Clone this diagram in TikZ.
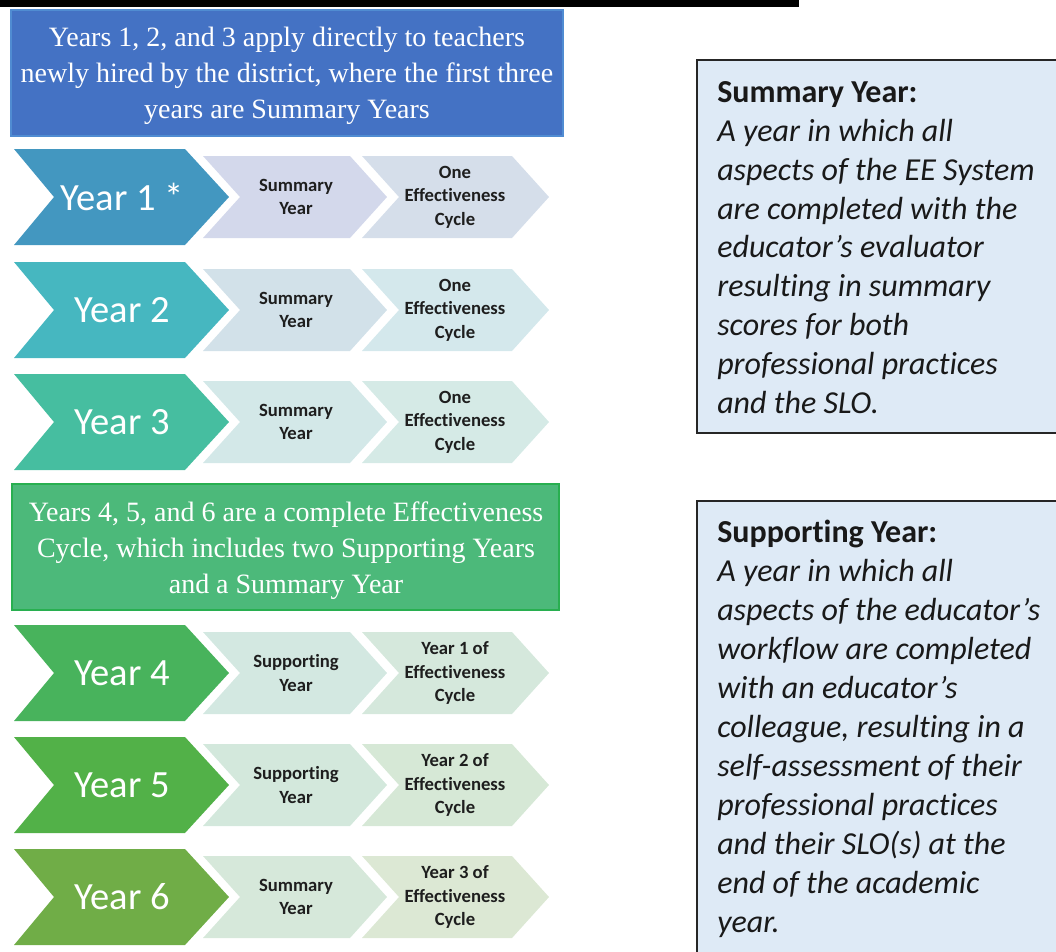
\documentclass[tikz,border=0pt]{standalone}
\usepackage{fontspec}
\setmainfont{Carlito}[Ligatures={NoCommon}]
\newfontfamily\hdrserif{Liberation Serif}
\definecolor{hdrblue}{RGB}{68,114,196}
\definecolor{hdrblueb}{RGB}{80,140,210}
\definecolor{hdrgreen}{RGB}{76,185,122}
\definecolor{hdrgreenb}{RGB}{40,175,80}
\definecolor{yA}{RGB}{67,151,192}
\definecolor{yAb}{RGB}{211,216,235}
\definecolor{yAc}{RGB}{213,222,234}
\definecolor{yB}{RGB}{70,183,192}
\definecolor{yBb}{RGB}{210,225,233}
\definecolor{yBc}{RGB}{212,232,236}
\definecolor{yC}{RGB}{70,190,160}
\definecolor{yCb}{RGB}{211,232,232}
\definecolor{yCc}{RGB}{213,234,230}
\definecolor{yD}{RGB}{72,179,92}
\definecolor{yDb}{RGB}{211,232,225}
\definecolor{yDc}{RGB}{213,232,220}
\definecolor{yE}{RGB}{82,177,72}
\definecolor{yEb}{RGB}{211,232,220}
\definecolor{yEc}{RGB}{214,232,214}
\definecolor{yF}{RGB}{112,173,71}
\definecolor{yFb}{RGB}{214,232,218}
\definecolor{yFc}{RGB}{220,232,212}
\definecolor{boxfill}{RGB}{222,234,246}
\definecolor{midtext}{RGB}{30,30,30}
\tikzset{
  hdrtext/.style={text=white, align=center, inner sep=0pt,
    font=\hdrserif\fontsize{21}{27}\selectfont},
  bigtxt/.style={text=white, inner sep=0pt, font=\fontsize{28.9}{34}\selectfont},
  midtxt/.style={text=midtext, align=center, inner sep=0pt,
    font=\bfseries\fontsize{14}{17.6}\selectfont},
  deftxt/.style={text=black!90, align=left, inner sep=0pt, anchor=north west,
    font=\fontsize{24}{29.2}\selectfont},
  defbox/.style={draw=black!85, line width=1.1pt, fill=boxfill}
}
\newcommand\yrrow[8]{%
  \fill[#2] (14,#1-48) -- (185,#1-48) -- (229,#1) -- (185,#1+48) -- (14,#1+48) -- (54,#1) -- cycle;
  \fill[#3] (203,#1-41) -- (350,#1-41) -- (387,#1) -- (350,#1+41) -- (203,#1+41) -- (240,#1) -- cycle;
  \fill[#4] (362,#1-41) -- (512,#1-41) -- (549,#1) -- (512,#1+41) -- (362,#1+41) -- (399,#1) -- cycle;
  \node[bigtxt] (#8a) at (122,#1) {#5};
  \node[midtxt] (#8b) at (296,#1) {#6};
  \node[midtxt] (#8c) at (455,#1) {#7};
}
\begin{document}
\begin{tikzpicture}[x=0.75pt,y=-0.75pt]
\useasboundingbox (0,0) rectangle (1056,951);
\fill[black] (0,0) rectangle (799,7);
% headers
\draw[fill=hdrblue, draw=hdrblueb, line width=0.8pt] (11,10) rectangle (563,136);
\node[hdrtext] (hdrA) at (287,76) {Years 1, 2, and 3 apply directly to teachers\\newly hired by the district, where the first three\\years are Summary Years};
\draw[fill=hdrgreen, draw=hdrgreenb, line width=0.8pt] (12,484) rectangle (559,610);
\node[hdrtext] (hdrB) at (286,551) {Years 4, 5, and 6 are a complete Effectiveness\\Cycle, which includes two Supporting Years\\and a Summary Year};
% rows
\yrrow{197}{yA}{yAb}{yAc}{Year 1 *}{Summary\\Year}{One\\Effectiveness\\Cycle}{r1}
\yrrow{310}{yB}{yBb}{yBc}{Year 2}{Summary\\Year}{One\\Effectiveness\\Cycle}{r2}
\yrrow{422}{yC}{yCb}{yCc}{Year 3}{Summary\\Year}{One\\Effectiveness\\Cycle}{r3}
\yrrow{673}{yD}{yDb}{yDc}{Year 4}{Supporting\\Year}{Year 1 of\\Effectiveness\\Cycle}{r4}
\yrrow{785}{yE}{yEb}{yEc}{Year 5}{Supporting\\Year}{Year 2 of\\Effectiveness\\Cycle}{r5}
\yrrow{897}{yF}{yFb}{yFc}{Year 6}{Summary\\Year}{Year 3 of\\Effectiveness\\Cycle}{r6}
% definition boxes
\draw[defbox] (697,60) rectangle (1075,433);
\node[deftxt] (defA) at (717,81) {\textbf{Summary Year:}\\\textit{A year in which all}\\\textit{aspects of the EE System}\\\textit{are completed with the}\\\textit{educator’s evaluator}\\\textit{resulting in summary}\\\textit{scores for both}\\\textit{professional practices}\\\textit{and the SLO.}};
\draw[defbox] (697,501) rectangle (1075,970);
\node[deftxt] (defB) at (717,520) {\textbf{Supporting Year:}\\\textit{A year in which all}\\\textit{aspects of the educator’s}\\\textit{workflow are completed}\\\textit{with an educator’s}\\\textit{colleague, resulting in a}\\\textit{self-assessment of their}\\\textit{professional practices}\\\textit{and their SLO(s) at the}\\\textit{end of the academic}\\\textit{year.}};
\end{tikzpicture}
\end{document}
